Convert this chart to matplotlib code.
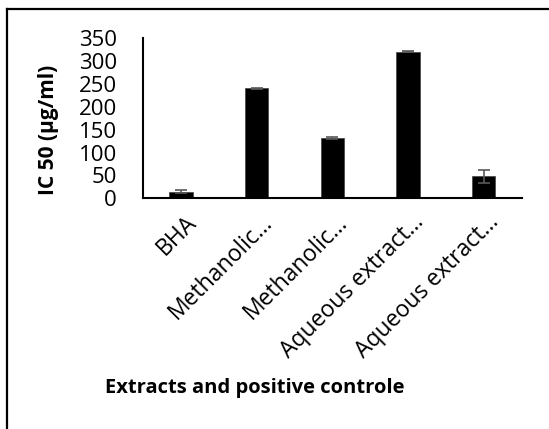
import matplotlib
matplotlib.use("Agg")
import matplotlib.pyplot as plt
import matplotlib.transforms as mtransforms
from matplotlib.lines import Line2D

categories = ["BHA", "Methanolic\u2026", "Methanolic\u2026",
              "Aqueous extract\u2026", "Aqueous extract\u2026"]
ic50 = [14.4, 241, 132, 321, 48]
errors = [3.5, 1, 1.5, 1, 14]
yticks = [0, 50, 100, 150, 200, 250, 300, 350]

plt.rcParams['font.family'] = ['Open Sans', 'DejaVu Sans']

fig = plt.figure(figsize=(5.49, 4.29), dpi=100)
ax = fig.add_axes([0.261, 0.5378, 0.689, 0.3729])

x = range(len(categories))
ax.bar(x, ic50, width=0.31, color="black", edgecolor="#404040", linewidth=0.5,
       yerr=errors, error_kw=dict(ecolor="#595959", elinewidth=1.2, capsize=4.3, capthick=1.2))

ax.set_xlim(-0.5, 4.5)
ax.set_ylim(0, 350)
ax.set_yticks(yticks)
ax.set_xticks(list(x))
ax.set_xticklabels(categories, rotation=45, ha="right", va="center",
                   rotation_mode="anchor", fontsize=16.5)
ax.tick_params(axis="both", length=0)
ax.tick_params(axis="y", pad=19, labelsize=16)
ax.tick_params(axis="x", pad=15)

# nudge rotated labels to the right, as in the source chart
shift = mtransforms.ScaledTranslation(0.12, 0, fig.dpi_scale_trans)
for lab in ax.get_xticklabels():
    lab.set_transform(lab.get_transform() + shift)

for s in ["top", "right"]:
    ax.spines[s].set_visible(False)
ax.spines["left"].set_linewidth(1.5)
ax.spines["bottom"].set_linewidth(1.5)

fig.text(0.088, 0.697, "IC 50 (\u00b5g/ml)", rotation=90, ha="center", va="center",
         fontsize=15, fontweight="bold")
fig.text(0.464, 0.095, "Extracts and positive controle", ha="center", va="center",
         fontsize=14.5, fontweight="bold")

# frame (only top and left edges are visible in the crop)
fig.add_artist(Line2D([7 / 549, 1], [1 - 9 / 429, 1 - 9 / 429], color="black", linewidth=1.6))
fig.add_artist(Line2D([7 / 549, 7 / 549], [0, 1 - 9 / 429], color="black", linewidth=1.6))

fig.savefig("out.png", dpi=100)
